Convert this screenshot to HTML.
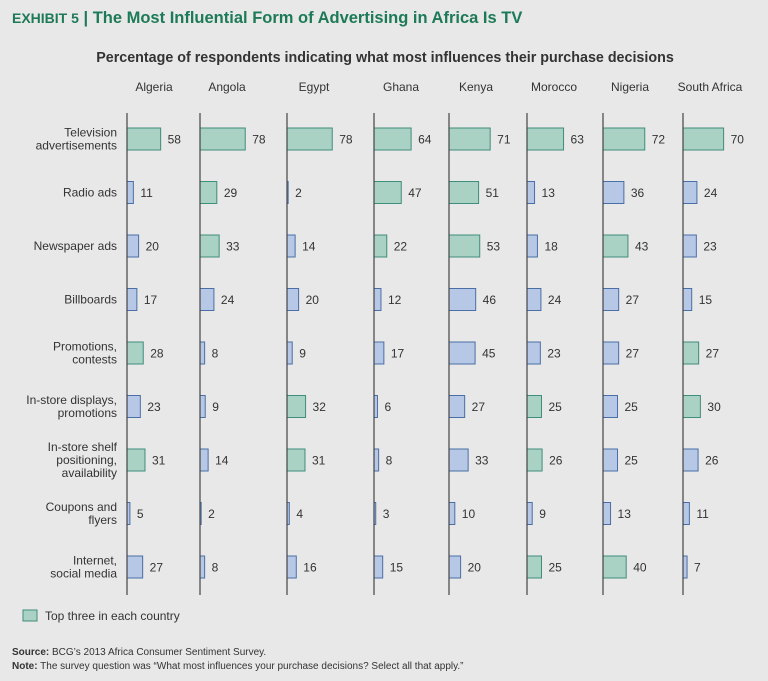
<!DOCTYPE html>
<html><head><meta charset="utf-8"><style>
body{margin:0;background:#e8e8e8;font-family:"Liberation Sans",sans-serif;}
svg{display:block}
</style></head><body>
<svg width="768" height="681" id="c" font-family="Liberation Sans, sans-serif">
<rect width="768" height="681" fill="#e8e8e8"/>
<text x="12" y="23" font-size="16.5" font-weight="bold" fill="#1d7a58"><tspan font-size="14">EXHIBIT 5</tspan> | The Most Influential Form of Advertising in Africa Is TV</text>
<text x="385" y="62" font-size="14.3" font-weight="bold" fill="#333" text-anchor="middle">Percentage of respondents indicating what most influences their purchase decisions</text>
<rect x="23" y="610" width="14" height="11" fill="#a9d1c4" stroke="#3f8d7b"/>
<text x="45" y="620" font-size="12" fill="#333">Top three in each country</text>
<text x="12" y="655" font-size="10" fill="#333"><tspan font-weight="bold">Source:</tspan> BCG’s 2013 Africa Consumer Sentiment Survey.</text>
<text x="12" y="669" font-size="10" fill="#333"><tspan font-weight="bold">Note:</tspan> The survey question was “What most influences your purchase decisions? Select all that apply.”</text>
<g id="plot"></g>
</svg>
<script>
const countries=["Algeria","Angola","Egypt","Ghana","Kenya","Morocco","Nigeria","South Africa"];
const categories=[["Television","advertisements"],["Radio ads"],["Newspaper ads"],["Billboards"],["Promotions,","contests"],["In-store displays,","promotions"],["In-store shelf","positioning,","availability"],["Coupons and","flyers"],["Internet,","social media"]];
const algeria=[58,11,20,17,28,23,31,5,27];
const angola=[78,29,33,24,8,9,14,2,8];
const egypt=[78,2,14,20,9,32,31,4,16];
const ghana=[64,47,22,12,17,6,8,3,15];
const kenya=[71,51,53,46,45,27,33,10,20];
const morocco=[63,13,18,24,23,25,26,9,25];
const nigeria=[72,36,43,27,27,25,25,13,40];
const southAfrica=[70,24,23,15,27,30,26,11,7];
const series=[algeria,angola,egypt,ghana,kenya,morocco,nigeria,southAfrica];
const topThree=[[0,4,6],[0,1,2],[0,5,6],[0,1,2],[0,1,2],[0,5,6,8],[0,2,8],[0,4,5]];
const axisX=[127,200,287,374,449,527,603,683];
const ns="http://www.w3.org/2000/svg";
const g=document.getElementById('plot');
const xs=v=>v*0.58;
const ys=i=>139+i*53.5;
function mk(t,a){const e=document.createElementNS(ns,t);for(const k in a)e.setAttribute(k,a[k]);g.appendChild(e);return e;}
categories.forEach((lines,i)=>{
  const t=mk('text',{x:117,'font-size':12,fill:'#333','text-anchor':'end'});
  
  
  const y0=ys(i)-(lines.length-1)*6.5+4;
  lines.forEach((l,j)=>{const s=document.createElementNS(ns,'tspan');s.setAttribute('x',117);s.setAttribute('y',y0+j*13);s.textContent=l;t.appendChild(s);});
});
countries.forEach((c,ci)=>{
  const ax=axisX[ci];
  const t=mk('text',{x:ax+27,y:91,'font-size':12,fill:'#333','text-anchor':'middle'});
  
  
  t.textContent=c;
  series[ci].forEach((v,i)=>{
    const top=topThree[ci].includes(i);
    const w=xs(v);
    const r=mk('rect',{x:ax,y:ys(i)-11,width:w,height:22,fill:top?'#a9d1c4':'#b6c8e6',stroke:top?'#3f8d7b':'#4a6fa6','stroke-width':1});
    
    
    const l=mk('text',{x:ax+w+7,y:ys(i)+4.5,'font-size':12,fill:'#333'});
    
    
    l.textContent=v;
  });
  const a=mk('line',{x1:ax,x2:ax,y1:113,y2:595,stroke:'#444','stroke-width':1.2});
  
  
});
</script>
</body></html>
